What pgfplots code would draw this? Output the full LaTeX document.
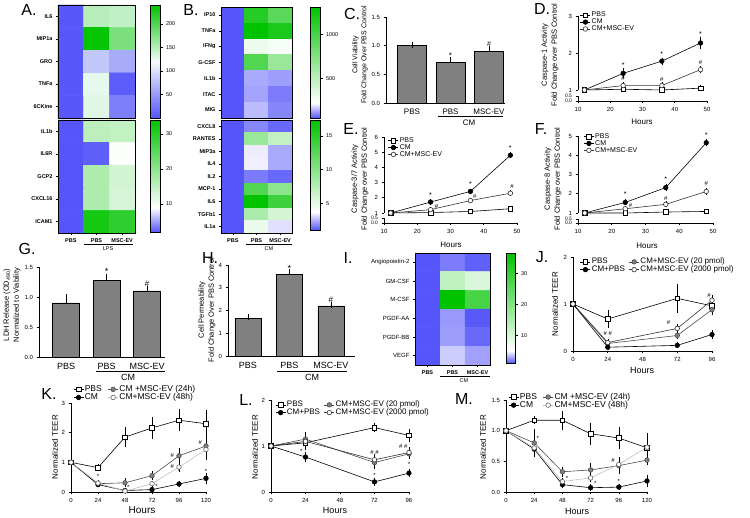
\documentclass[border=0pt]{standalone}
\usepackage{fontspec}
\setmainfont{Liberation Sans}
\usepackage{pgfplots}
\pgfplotsset{compat=1.18}
\newcommand\fs[1]{\fontsize{#1}{#1}\selectfont}
\pgfkeys{/pgf/number format/assume math mode=true, /pgf/number format/1000 sep={}}
\pgfplotsset{
  colormap={cmAa}{rgb255(0cm)=(85,85,250) rgb255(12cm)=(245,252,250) rgb255(24cm)=(0,195,0)},
  colormap={cmAb}{rgb255(0cm)=(85,85,250) rgb255(7cm)=(255,255,255) rgb255(32cm)=(0,195,0)},
  colormap={cmBa}{rgb255(0cm)=(85,85,250) rgb255(17cm)=(255,255,255) rgb255(126cm)=(0,195,0)},
  colormap={cmBb}{rgb255(0cm)=(85,85,250) rgb255(2.7cm)=(255,255,255) rgb255(16.4cm)=(0,195,0)},
  colormap={cmI}{rgb255(0cm)=(85,85,250) rgb255(4cm)=(255,255,255) rgb255(35.5cm)=(0,195,0)},
  hm/.style={scale only axis, anchor=south west, enlargelimits=false, axis on top, y dir=reverse,
    xmin=-0.5, xmax=2.5, tick align=outside, major tick length=2pt,
    tick style={black, line width=0.5pt}, xtick pos=left, ytick pos=left,
    ticklabel style={font=\fs{5.5}\bfseries}, axis line style={line width=0.8pt},
    xtick={0,1,2}},
  cbar/.style={colorbar, colorbar style={scale only axis, at={(parent axis.north east)},
    anchor=north west, width=10pt, ytick pos=right, yticklabel pos=right, tick align=outside,
    major tick length=2pt, tick style={black, line width=0.4pt},
    yticklabel style={font=\fs{5.5}}, axis line style={line width=0.5pt}, #1}},
  bax/.style={scale only axis, anchor=south west, axis lines*=left, axis line style={line width=0.7pt,-},
    tick style={black, line width=0.6pt}, tick align=outside, major tick length=2.5pt,
    yticklabel style={font=\fs{6}}, xtick={0,1,2}, clip=false, ymin=0,
    every major x tick/.append style={draw=none}},
  barplot/.style={ybar, bar width=#1, fill=black!50, draw=black, line width=0.6pt,
    error bars/.cd, y dir=plus, y explicit, error bar style={line width=0.6pt, black},
    error mark options={line width=0.6pt, mark size=3pt, black}},
  lax/.style={scale only axis, anchor=south west, axis lines*=left, axis line style={line width=0.7pt,-},
    tick style={black, line width=0.6pt}, tick align=outside, major tick length=2.5pt,
    ticklabel style={font=\fs{6}}, clip=false, legend cell align=left,
    legend style={draw=none, fill=none, font=\fs{7}, inner sep=0pt, row sep=-1.5pt,
      nodes={inner sep=1pt}},
    legend image code/.code={\draw[mark repeat=2,mark phase=2,##1] plot coordinates {(0pt,0pt) (5pt,0pt) (10pt,0pt)};}},
  eb/.style={error bars/.cd, y dir=both, y explicit, error bar style={line width=0.5pt, black},
    error mark options={line width=0.5pt, mark size=2pt, black}},
  sPBS/.style={black, line width=0.6pt, mark=square*, mark options={fill=white, solid}, mark size=2.3pt, eb},
  sCM/.style={black, line width=0.6pt, mark=*, mark options={fill=black}, mark size=2.3pt, eb},
  sEV/.style={black!80, line width=0.6pt, mark=*, mark options={fill=white, draw=black!80}, mark size=2.3pt, eb},
  sG/.style={black!70, line width=0.6pt, mark=*, mark options={fill=black!50, draw=black!70}, mark size=2.3pt, eb},
  sL/.style={black!25, line width=0.6pt, mark=*, mark options={fill=white, draw=black!60}, mark size=2.3pt, eb},
}
\begin{document}
\begin{tikzpicture}[x=1pt,y=1pt]
\useasboundingbox (0,0) rectangle (750,517);

% ---------------- A ----------------
\begin{axis}[hm, at={(58pt,399pt)}, width=77pt, height=113pt, ymin=-0.5, ymax=4.5,
  ytick={0,...,4}, yticklabels={IL6,MIP1a,GRO,TNFa,6CKine}, xtick=\empty,
  colormap name=cmAa, point meta min=0, point meta max=240,
  cbar={xshift=7pt, height=113pt, ytick={50,100,150,200}}]
\addplot[matrix plot*, mesh/cols=3, point meta=explicit] table[meta=c]{
x y c
0 0 2
1 0 150
2 0 145
0 1 2
1 1 238
2 1 180
0 2 2
1 2 82
2 2 62
0 3 2
1 3 127
2 3 6
0 4 2
1 4 130
2 4 30
};
\end{axis}
\begin{axis}[hm, at={(58pt,284pt)}, width=77pt, height=113pt, ymin=-0.5, ymax=4.5,
  ytick={0,...,4}, yticklabels={IL1b,IL6R,GCP2,CXCL16,ICAM1},
  xticklabels={PBS,PBS,MSC-EV},
  colormap name=cmAb, point meta min=2, point meta max=34,
  cbar={xshift=7pt, height=112pt, ytick={10,20,30}}]
\addplot[matrix plot*, mesh/cols=3, point meta=explicit] table[meta=c]{
x y c
0 0 2
1 0 15.5
2 0 15
0 1 2
1 1 2.4
2 1 9.2
0 2 2
1 2 17
2 2 13.5
0 3 2
1 3 17
2 3 13
0 4 2
1 4 32
2 4 29.5
};
\end{axis}
\draw[line width=0.6pt] (84,273) -- (133,273);
\node[font=\fs{5.5}] at (108,268) {LPS};

% ---------------- B ----------------
\begin{axis}[hm, at={(221pt,399pt)}, width=71pt, height=111pt, ymin=-0.5, ymax=6.5,
  ytick={0,...,6}, yticklabels={IP10,TNFa,IFNg,G-CSF,IL1b,ITAC,MIG}, xtick=\empty,
  colormap name=cmBa, point meta min=50, point meta max=1310,
  cbar={xshift=10pt, height=111pt, ytick={500,1000}}]
\addplot[matrix plot*, mesh/cols=3, point meta=explicit] table[meta=c]{
x y c
0 0 50
1 0 1150
2 0 930
0 1 50
1 1 1310
2 1 1200
0 2 50
1 2 300
2 2 260
0 3 50
1 3 960
2 3 650
0 4 50
1 4 135
2 4 123
0 5 50
1 5 128
2 5 89
0 6 50
1 6 152
2 6 99
};
\end{axis}
\begin{axis}[hm, at={(221pt,284pt)}, width=71pt, height=113pt, ymin=-0.5, ymax=8.5,
  ytick={0,...,8}, yticklabels={CXCL8,RANTES,MIP3a,IL4,IL2,MCP-1,IL6,TGFb1,IL1a},
  xticklabels={PBS,PBS,MSC-EV},
  colormap name=cmBb, point meta min=1, point meta max=17.4,
  cbar={xshift=10pt, height=110pt, ytick={5,10,15}}]
\addplot[matrix plot*, mesh/cols=3, point meta=explicit] table[meta=c]{
x y c
0 0 1
1 0 1.8
2 0 1.3
0 1 1
1 1 9.2
2 1 6.9
0 2 1
1 2 3.4
2 2 2.35
0 3 1
1 3 3.45
2 3 2.35
0 4 1
1 4 1.6
2 4 1.3
0 5 1
1 5 13
2 5 9.9
0 6 1
1 6 17.4
2 6 14.1
0 7 1
1 7 8.2
2 7 6.0
0 8 1
1 8 4.8
2 8 3.2
};
\end{axis}
\draw[line width=0.6pt] (246,273) -- (292,273);
\node[font=\fs{5.5}] at (269,268) {CM};

% ---------------- I ----------------
\begin{axis}[hm, at={(415pt,152pt)}, width=75pt, height=112pt, ymin=-0.5, ymax=5.5,
  ytick={0,...,5}, yticklabels={Angiopoietin-2,GM-CSF,M-CSF,PGDF-AA,PGDF-BB,VEGF},
  yticklabel style={font=\fs{6}}, xticklabels={PBS,PBS,MSC-EV},
  colormap name=cmI, point meta min=1, point meta max=36.5,
  cbar={xshift=8pt, width=9pt, height=110pt, ytick={10,20,30}}]
\addplot[matrix plot*, mesh/cols=3, point meta=explicit] table[meta=c]{
x y c
0 0 1
1 0 1.9
2 0 1.25
0 1 1
1 1 12.9
2 1 9.4
0 2 1
1 2 36.5
2 2 27.7
0 3 1
1 3 2.6
2 3 1.1
0 4 1
1 4 2.7
2 4 1.45
0 5 1
1 5 3.8
2 5 2.8
};
\end{axis}
\draw[line width=0.6pt] (440,141) -- (490,141);
\node[font=\fs{5.5}] at (464,136) {CM};

% ---------------- C ----------------
\begin{axis}[bax, at={(386pt,414pt)}, width=119pt, height=86pt, xmin=-0.675, xmax=2.415,
  ymax=1.5, ytick={0,0.5,1,1.5}, yticklabels={0.0,0.5,1.0,1.5},
  xticklabels={PBS,PBS,MSC-EV}, xticklabel style={font=\fs{8}}]
\addplot[barplot=0.75] table[x=x,y=y,y error=e]{
x y e
0 1.0 0.02
1 0.71 0.04
2 0.90 0.04
};
\node[font=\fs{8}] at (axis cs:1,0.83) {*};
\node[font=\fs{7}] at (axis cs:2,1.03) {\#};
\end{axis}
\draw[line width=0.6pt] (438,401) -- (503,401);
\node[font=\fs{8}] at (469,394) {CM};
\node[rotate=90, align=center, font=\fontsize{7}{9}\selectfont] at (360,462) {Cell Viability\\Fold Change Over PBS Control};

% ---------------- D ----------------
\begin{axis}[lax, at={(578pt,427pt)}, width=129pt, height=74pt, xmin=10, xmax=50, ymin=1, ymax=3,
  ytick={1,2,3}, axis x line=none, axis y line*=left,
  legend style={at={(0.015,1.07)}, anchor=north west}]
\addplot[sPBS] table[x=x,y=y,y error=e]{
x y e
12 1 0
24 1.02 0.02
36 1.0 0.02
48 1.05 0.02
};
\addlegendentry{PBS}
\addplot[sCM] table[x=x,y=y,y error=e]{
x y e
12 1 0
24 1.45 0.08
36 1.78 0.04
48 2.27 0.12
};
\addlegendentry{CM}
\addplot[sEV] table[x=x,y=y,y error=e]{
x y e
12 1 0
24 1.12 0.04
36 1.12 0.03
48 1.55 0.05
};
\addlegendentry{CM+MSC-EV}
\node[font=\fs{7}] at (axis cs:24,1.66) {*};
\node[font=\fs{7}] at (axis cs:36,1.98) {*};
\node[font=\fs{7}] at (axis cs:48,2.52) {*};
\node[font=\fs{6}] at (axis cs:24,1.3) {\#};
\node[font=\fs{6}] at (axis cs:36,1.28) {\#};
\node[font=\fs{6}] at (axis cs:48,1.74) {\#};
\end{axis}
\begin{axis}[lax, at={(578pt,416pt)}, width=129pt, height=5pt, xmin=10, xmax=50, ymin=0, ymax=0.5,
  ytick={0,0.5}, yticklabels={0.0,0.5}, yticklabel style={font=\fs{5}},
  xtick={10,20,30,40,50}]
\end{axis}
\node[rotate=90, align=center, font=\fontsize{7.5}{10}\selectfont] at (550,462) {Caspase-1 Activity\\Fold Change over PBS Control};
\node[font=\fs{8}] at (642,395) {Hours};

% ---------------- E ----------------
\begin{axis}[lax, at={(384pt,304pt)}, width=133pt, height=76pt, xmin=10, xmax=50, ymin=1, ymax=6,
  ytick={1,...,6}, axis x line=none, axis y line*=left,
  legend style={at={(0.03,1.01)}, anchor=north west}]
\addplot[sPBS] table[x=x,y=y,y error=e]{
x y e
12 1 0
24 1.03 0.02
36 1.1 0.03
48 1.28 0.04
};
\addlegendentry{PBS}
\addplot[sCM] table[x=x,y=y,y error=e]{
x y e
12 1 0
24 1.72 0.05
36 2.42 0.06
48 4.8 0.08
};
\addlegendentry{CM}
\addplot[sEV] table[x=x,y=y,y error=e]{
x y e
12 1 0
24 1.22 0.04
36 1.82 0.05
48 2.3 0.06
};
\addlegendentry{CM+MSC-EV}
\node[font=\fs{7}] at (axis cs:24,2.15) {*};
\node[font=\fs{7}] at (axis cs:36,2.87) {*};
\node[font=\fs{7}] at (axis cs:48,5.25) {*};
\node[font=\fs{6}] at (axis cs:25.8,1.41) {\#};
\node[font=\fs{6}] at (axis cs:37.3,2.1) {\#};
\node[font=\fs{6}] at (axis cs:48.5,2.73) {\#};
\end{axis}
\begin{axis}[lax, at={(384pt,294pt)}, width=133pt, height=5pt, xmin=10, xmax=50, ymin=0, ymax=0.5,
  ytick={0,0.5}, yticklabels={0.0,0.5}, yticklabel style={font=\fs{5}},
  xtick={10,20,30,40,50}]
\end{axis}
\node[rotate=90, align=center, font=\fontsize{7.5}{10}\selectfont] at (360,338) {Caspase-3/7 Activity\\Fold Change over PBS Control};
\node[font=\fs{8}] at (451,272) {Hours};

% ---------------- F ----------------
\begin{axis}[lax, at={(578pt,304pt)}, width=135pt, height=77pt, xmin=10, xmax=50, ymin=1, ymax=5,
  ytick={1,...,5}, axis x line=none, axis y line*=left,
  legend style={at={(0.04,1.05)}, anchor=north west}]
\addplot[sPBS] table[x=x,y=y,y error=e]{
x y e
12 1 0
24 1.0 0.02
36 1.05 0.02
48 1.08 0.03
};
\addlegendentry{PBS}
\addplot[sCM] table[x=x,y=y,y error=e]{
x y e
12 1 0
24 1.55 0.05
36 2.32 0.06
48 4.65 0.08
};
\addlegendentry{CM}
\addplot[sEV] table[x=x,y=y,y error=e]{
x y e
12 1 0
24 1.22 0.04
36 1.45 0.05
48 2.12 0.06
};
\addlegendentry{CM+MSC-EV}
\node[font=\fs{7}] at (axis cs:24,2.0) {*};
\node[font=\fs{7}] at (axis cs:36,2.75) {*};
\node[font=\fs{7}] at (axis cs:48,5.05) {*};
\node[font=\fs{6}] at (axis cs:25.6,1.38) {\#};
\node[font=\fs{6}] at (axis cs:36,1.77) {\#};
\node[font=\fs{6}] at (axis cs:48,2.55) {\#};
\end{axis}
\begin{axis}[lax, at={(578pt,294pt)}, width=135pt, height=4pt, xmin=10, xmax=50, ymin=0, ymax=0.5,
  ytick={0,0.5}, yticklabels={0.0,0.5}, yticklabel style={font=\fs{5}},
  xtick={10,20,30,40,50}]
\end{axis}
\node[rotate=90, align=center, font=\fontsize{7.5}{10}\selectfont] at (553,338) {Caspase-8 Activity\\Fold Change over PBS Control};
\node[font=\fs{8}] at (647,271) {Hours};

% ---------------- G ----------------
\begin{axis}[bax, at={(39pt,160pt)}, width=126pt, height=90pt, xmin=-0.667, xmax=2.44,
  ymax=1.5, ytick={0,0.5,1,1.5}, yticklabels={0.0,0.5,1.0,1.5},
  xticklabels={PBS,PBS,MSC-EV}, xticklabel style={font=\fs{9}}]
\addplot[barplot=0.66] table[x=x,y=y,y error=e]{
x y e
0 0.90 0.10
1 1.28 0.05
2 1.10 0.03
};
\node[font=\fs{9}] at (axis cs:1,1.43) {*};
\node[font=\fs{8}] at (axis cs:2,1.22) {\#};
\end{axis}
\draw[line width=0.6pt] (96,146) -- (165,146);
\node[font=\fs{9}] at (128,140) {CM};
\node[rotate=90, align=center, font=\fontsize{7.5}{10}\selectfont] at (12,212) {LDH Release (OD\textsubscript{490})\\Normalized to Viability};

% ---------------- H ----------------
\begin{axis}[bax, at={(228pt,161pt)}, width=127pt, height=91pt, xmin=-0.48, xmax=2.58,
  ymax=4, ytick={0,1,2,3,4},
  xticklabels={PBS,PBS,MSC-EV}, xticklabel style={font=\fs{9}}]
\addplot[barplot=0.63] table[x=x,y=y,y error=e]{
x y e
0 1.65 0.07
1 3.60 0.08
2 2.20 0.04
};
\node[font=\fs{9}] at (axis cs:1,3.85) {*};
\node[font=\fs{8}] at (axis cs:2,2.47) {\#};
\end{axis}
\draw[line width=0.6pt] (277,146) -- (347,146);
\node[font=\fs{9}] at (312,140) {CM};
\node[rotate=90, align=center, font=\fontsize{7.5}{10}\selectfont] at (207,207) {Cell Permeability\\Fold Change Over PBS Control};

% ---------------- J ----------------
\begin{axis}[lax, at={(573pt,166pt)}, width=139pt, height=94pt, xmin=0, xmax=96, ymin=0, ymax=2,
  xtick={0,24,48,72,96}, ytick={0,1,2}, legend columns=2,
  legend style={at={(0.05,1.0)}, anchor=north west, font=\fs{8},
    /tikz/every even column/.append style={column sep=3pt}}]
\addplot[sPBS] table[x=x,y=y,y error=e]{
x y e
0 1 0
24 0.68 0.15
72 1.12 0.27
96 0.96 0.15
};
\addlegendentry{PBS}
\addplot[sG] table[x=x,y=y,y error=e]{
x y e
0 1 0
24 0.16 0.03
72 0.33 0.04
96 0.88 0.06
};
\addlegendentry{CM+MSC-EV (20 pmol)}
\addplot[sCM] table[x=x,y=y,y error=e]{
x y e
0 1 0
24 0.08 0.02
72 0.12 0.02
96 0.35 0.05
};
\addlegendentry{CM+PBS}
\addplot[sEV] table[x=x,y=y,y error=e]{
x y e
0 1 0
24 0.18 0.03
72 0.48 0.05
96 1.08 0.06
};
\addlegendentry{CM+MSC-EV (2000 pmol)}
\node[font=\fs{6}] at (axis cs:24,0.38) {\# \#};
\node[font=\fs{6}] at (axis cs:66,0.6) {\#};
\node[font=\fs{6}] at (axis cs:94,1.19) {\#};
\end{axis}
\node[rotate=90, font=\fs{8}] at (555,213) {Normalized TEER};
\node[font=\fs{9}] at (642,147) {Hours};

% ---------------- K ----------------
\begin{axis}[lax, at={(71pt,25pt)}, width=135pt, height=89pt, xmin=0, xmax=120, ymin=0, ymax=3,
  xtick={0,24,48,72,96,120}, ytick={0,1,2,3}, legend columns=2,
  legend style={at={(0.015,1.21)}, anchor=north west, font=\fs{8.5},
    /tikz/every even column/.append style={column sep=5pt}}]
\addplot[sPBS] table[x=x,y=y,y error=e]{
x y e
0 1 0
24 0.82 0.04
48 1.85 0.27
72 2.16 0.30
96 2.42 0.30
120 2.30 0.38
};
\addlegendentry{PBS}
\addplot[sG] table[x=x,y=y,y error=e]{
x y e
0 1 0
24 0.28 0.03
48 0.31 0.08
72 0.55 0.08
96 1.22 0.18
120 1.55 0.25
};
\addlegendentry{CM +MSC-EV (24h)}
\addplot[sCM] table[x=x,y=y,y error=e]{
x y e
0 1 0
24 0.25 0.03
48 0.05 0.02
72 0.08 0.02
96 0.27 0.05
120 0.46 0.12
};
\addlegendentry{CM}
\addplot[sL] table[x=x,y=y,y error=e]{
x y e
0 1 0
24 0.30 0.03
48 0.03 0.02
72 0.28 0.04
96 0.84 0.10
120 1.43 0.30
};
\addlegendentry{CM+MSC-EV (48h)}
\node[font=\fs{6}] at (axis cs:24,0.52) {*};
\node[font=\fs{6}] at (axis cs:51,0.15) {*};
\node[font=\fs{6}] at (axis cs:76,0.2) {*};
\node[font=\fs{6}] at (axis cs:96,0.69) {*};
\node[font=\fs{6}] at (axis cs:120,0.71) {*};
\node[font=\fs{6}] at (axis cs:90,1.23) {\#};
\node[font=\fs{6}] at (axis cs:90,0.86) {\#};
\node[font=\fs{6}] at (axis cs:115,1.66) {\#};
\end{axis}
\node[rotate=90, font=\fs{8}] at (55,70) {Normalized TEER};
\node[font=\fs{10}] at (142,7) {Hours};

% ---------------- L ----------------
\begin{axis}[lax, at={(271pt,25pt)}, width=138pt, height=92pt, xmin=0, xmax=96, ymin=0, ymax=2,
  xtick={0,24,48,72,96}, ytick={0,1,2}, legend columns=2,
  legend style={at={(0.03,1.0)}, anchor=north west, font=\fs{8},
    /tikz/every even column/.append style={column sep=3pt}}]
\addplot[sPBS] table[x=x,y=y,y error=e]{
x y e
0 1 0
24 1.07 0.12
72 1.40 0.05
96 1.23 0.10
};
\addlegendentry{PBS}
\addplot[sG] table[x=x,y=y,y error=e]{
x y e
0 1 0
24 1.15 0.12
72 0.64 0.10
96 0.83 0.07
};
\addlegendentry{CM+MSC-EV (20 pmol)}
\addplot[sCM] table[x=x,y=y,y error=e]{
x y e
0 1 0
24 0.76 0.06
72 0.22 0.04
96 0.41 0.04
};
\addlegendentry{CM+PBS}
\addplot[sEV] table[x=x,y=y,y error=e]{
x y e
0 1 0
24 1.10 0.10
72 0.70 0.08
96 0.86 0.08
};
\addlegendentry{CM+MSC-EV (2000 pmol)}
\node[font=\fs{6}] at (axis cs:21,0.88) {*};
\node[font=\fs{6}] at (axis cs:72,0.37) {*};
\node[font=\fs{6}] at (axis cs:96,0.6) {*};
\node[font=\fs{6}] at (axis cs:72,0.86) {\# \#};
\node[font=\fs{6}] at (axis cs:92,1.0) {\# \#};
\end{axis}
\node[rotate=90, font=\fs{8}] at (255,70) {Normalized TEER};
\node[font=\fs{9}] at (335,7) {Hours};

% ---------------- M ----------------
\begin{axis}[lax, at={(506pt,25pt)}, width=141pt, height=92pt, xmin=0, xmax=120, ymin=0, ymax=1.5,
  xtick={0,24,48,72,96,120}, ytick={0,0.5,1,1.5}, yticklabels={0.0,0.5,1.0,1.5}, legend columns=2,
  legend style={at={(0.015,1.087)}, anchor=north west, font=\fs{8.5},
    /tikz/every even column/.append style={column sep=5pt}}]
\addplot[sPBS] table[x=x,y=y,y error=e]{
x y e
0 1 0
24 1.17 0.03
48 1.17 0.12
72 0.95 0.15
96 0.88 0.15
120 0.72 0.20
};
\addlegendentry{PBS}
\addplot[sG] table[x=x,y=y,y error=e]{
x y e
0 1 0
24 0.80 0.20
48 0.33 0.05
72 0.36 0.08
96 0.43 0.10
120 0.52 0.05
};
\addlegendentry{CM +MSC-EV (24h)}
\addplot[sCM] table[x=x,y=y,y error=e]{
x y e
0 1 0
24 0.70 0.10
48 0.12 0.03
72 0.07 0.02
96 0.08 0.02
120 0.18 0.07
};
\addlegendentry{CM}
\addplot[sL] table[x=x,y=y,y error=e]{
x y e
0 1 0
24 0.72 0.10
48 0.17 0.03
72 0.23 0.04
96 0.45 0.08
120 0.73 0.20
};
\addlegendentry{CM+MSC-EV (48h)}
\node[font=\fs{6}] at (axis cs:27,0.87) {*};
\node[font=\fs{6}] at (axis cs:52,0.22) {*};
\node[font=\fs{6}] at (axis cs:76,0.14) {*};
\node[font=\fs{6}] at (axis cs:96,0.18) {*};
\node[font=\fs{6}] at (axis cs:91,0.52) {\#};
\end{axis}
\node[rotate=90, font=\fs{8}] at (483,70) {Normalized TEER};
\node[font=\fs{9}] at (577,6) {Hours};

% ---------------- panel letters ----------------
\node[font=\fs{16}] at (29,507) {A.};
\node[font=\fs{16}] at (191,507) {B.};
\node[font=\fs{16}] at (352,503) {C.};
\node[font=\fs{16}] at (542,508) {D.};
\node[font=\fs{16}] at (351,388) {E.};
\node[font=\fs{16}] at (541,388) {F.};
\node[font=\fs{16}] at (27,268) {G.};
\node[font=\fs{16}] at (210,259) {H.};
\node[font=\fs{16}] at (348,259) {I.};
\node[font=\fs{16}] at (542,260) {J.};
\node[font=\fs{16}] at (49,123) {K.};
\node[font=\fs{16}] at (246,117) {L.};
\node[font=\fs{16}] at (464,118) {M.};
\end{tikzpicture}
\end{document}
